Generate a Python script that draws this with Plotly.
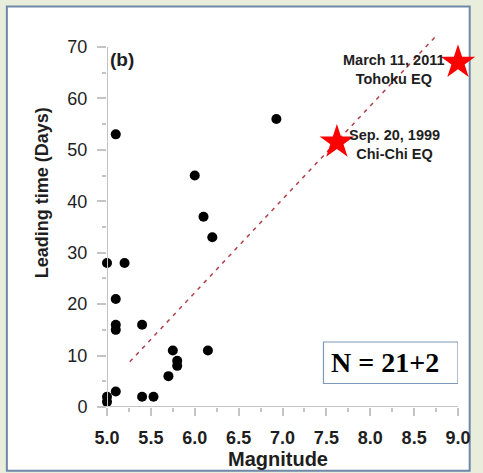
import plotly.graph_objects as go

# ---- data ----
magnitude = [5.0, 5.2, 5.1, 5.1, 5.1, 5.4, 5.75, 5.7, 5.8, 5.8, 6.15,
             6.2, 5.1, 5.0, 5.0, 5.4, 5.53, 5.1, 6.0, 6.1, 6.93]
leading_days = [28, 28, 21, 16, 15, 16, 11, 6, 9, 8, 11,
                33, 3, 2, 1, 2, 2, 53, 45, 37, 56]

big_eq_names = ["Chi-Chi EQ", "Tohoku EQ"]
big_eq_dates = ["Sep. 20, 1999", "March 11, 2011"]
big_eq_mag = [7.62, 9.0]
big_eq_days = [51.5, 67]

trend_mag = [5.26, 8.77]
trend_days = [8.8, 72.5]

x_ticks = [5.0, 5.5, 6.0, 6.5, 7.0, 7.5, 8.0, 8.5, 9.0]
x_ticklabels = ["5.0", "5.5", "6.0", "6.5", "7.0", "7.5", "8.0", "8.5", "9.0"]
y_ticks = [0, 10, 20, 30, 40, 50, 60, 70]

SANS = "Arial, Liberation Sans, sans-serif"
TXT = "#1e1e1e"
AX = "#c4c4c4"

fig = go.Figure()

fig.add_trace(go.Scatter(
    x=trend_mag, y=trend_days, mode="lines",
    line=dict(color="#b0404c", width=1.5, dash="4px,5px"),
    hoverinfo="skip", showlegend=False))

fig.add_trace(go.Scatter(
    x=magnitude, y=leading_days, mode="markers",
    marker=dict(color="black", size=10),
    cliponaxis=False, showlegend=False))

fig.add_trace(go.Scatter(
    x=big_eq_mag, y=big_eq_days, mode="markers",
    marker=dict(color="#ff0000", size=26, symbol="star", line=dict(width=0)),
    cliponaxis=False, showlegend=False))

# labels for the two large earthquakes
for m, d, name, date in zip(big_eq_mag, big_eq_days, big_eq_names, big_eq_dates):
    fig.add_annotation(
        x=8.272, y=d - 0.4 if name.startswith("Chi") else d - 1.4,
        text=f"<b>{date}</b><br><b>{name}</b>", showarrow=False,
        font=dict(family=SANS, size=14.5, color=TXT),
        xanchor="center", yanchor="middle", align="center")

# panel label
fig.add_annotation(x=5.01, y=67.5, text="<b>(b)</b>", showarrow=False,
                   xanchor="left", yanchor="middle",
                   font=dict(family=SANS, size=19, color=TXT))

# axis titles
fig.add_annotation(xref="paper", yref="paper", x=-0.1856, y=0.572,
                   text="<b>Leading time (Days)</b>", textangle=-90,
                   showarrow=False, xanchor="center", yanchor="middle",
                   font=dict(family=SANS, size=18, color=TXT))
fig.add_annotation(xref="paper", yref="paper", x=0.4875, y=-0.1387,
                   text="<b>Magnitude</b>", showarrow=False,
                   xanchor="center", yanchor="middle",
                   font=dict(family=SANS, size=20, color=TXT))

# N box
fig.add_shape(type="rect", x0=7.467, x1=9.0, y0=4.57, y1=12.64,
              line=dict(color="#7f97b8", width=1.2), fillcolor="white")
fig.add_annotation(x=8.167, y=8.56, text="<b>N = 21+2</b>", showarrow=False,
                   xanchor="center", yanchor="middle",
                   font=dict(family="Times New Roman, Liberation Serif, serif",
                             size=28, color="black"))

# outer frame
fig.add_shape(type="rect", xref="paper", yref="paper",
              x0=-0.2853, x1=1.0333, y0=-0.170, y1=1.068,
              line=dict(color="#6f87a8", width=2), fillcolor="white",
              layer="below")

# axis lines
fig.add_shape(type="line", xref="paper", yref="y", x0=-0.025, x1=1.0,
              y0=0, y1=0, line=dict(color=AX, width=2))
fig.add_shape(type="line", xref="x", yref="y", x0=5.0, x1=5.0,
              y0=0, y1=70, line=dict(color=AX, width=2))

fig.update_xaxes(
    range=[5.0, 9.0], showgrid=False, zeroline=False, showline=False,
    tickvals=x_ticks, ticktext=[f"<b>{t}</b>" for t in x_ticklabels],
    ticks="outside", ticklen=8,
    tickcolor=AX, tickwidth=1.5, ticklabelstandoff=6,
    tickfont=dict(family=SANS, size=18, color=TXT),
    minor=dict(dtick=0.25, ticks="outside", ticklen=4, tickcolor=AX,
               tickwidth=1.5, showgrid=False))
fig.update_yaxes(
    range=[0, 72.9], showgrid=False, zeroline=False, showline=False,
    tickvals=y_ticks, ticks="outside", ticklen=9,
    tickcolor=AX, tickwidth=1.5, ticklabelstandoff=6,
    tickprefix="<b>", ticksuffix="</b>",
    tickfont=dict(family=SANS, size=18, color=TXT),
    minor=dict(tickvals=[5, 15, 25, 35, 45, 55, 65], ticks="outside",
               ticklen=4, tickcolor=AX, tickwidth=1.5, showgrid=False))

fig.update_layout(
    width=483, height=473,
    margin=dict(l=107, r=15, t=32, b=66),
    paper_bgcolor="#e9eedc", plot_bgcolor="white",
    showlegend=False)

fig.write_html("out.html",
               config={"displayModeBar": False},
               post_script="document.body.style.margin='0';"
                           "document.body.style.overflow='hidden';")
